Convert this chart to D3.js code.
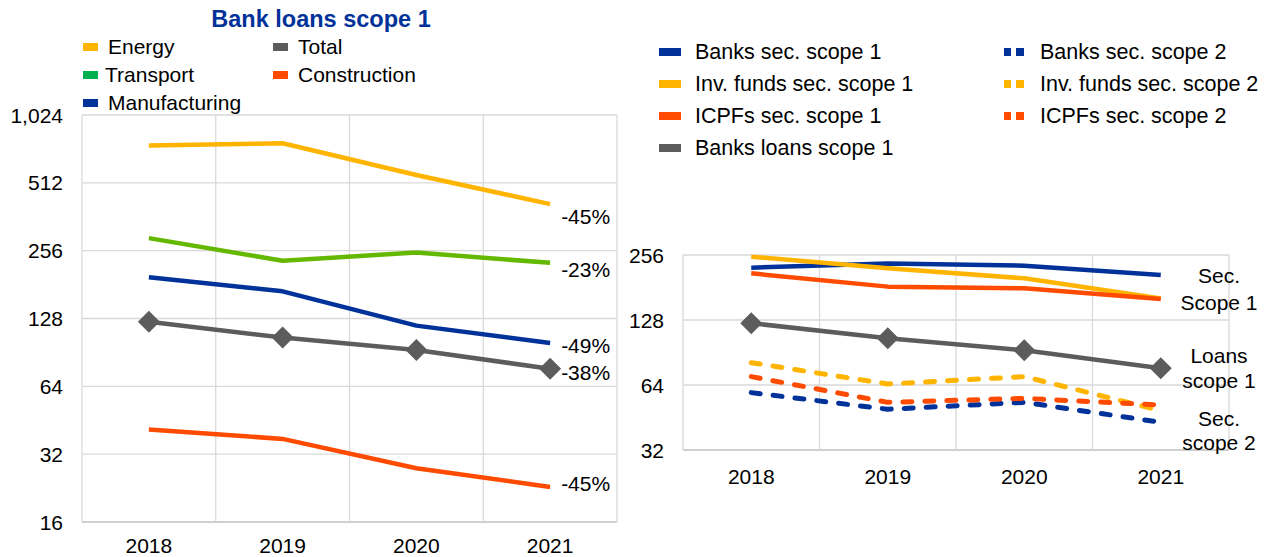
<!DOCTYPE html>
<html>
<head>
<meta charset="utf-8">
<script src="https://cdn.jsdelivr.net/npm/d3@7"></script>
<style>
  html, body { margin: 0; padding: 0; background: #fff; }
  svg { display: block; font-family: "Liberation Sans", Arial, sans-serif; }
</style>
</head>
<body>
<svg id="chart" width="1264" height="557"></svg>
<script>
// ---------- DATA ----------
const years = ["2018", "2019", "2020", "2021"];

// Left panel: Bank loans scope 1 (log2 scale)
const leftTicks = [16, 32, 64, 128, 256, 512, 1024];
const energy        = [749, 767, 555, 412];
const transport     = [291, 231, 251, 226];
const manufacturing = [195, 169, 119, 99.6];
const total         = [123.7, 105.4, 92.7, 76.6];
const construction  = [41.2, 37.4, 27.7, 22.9];
const leftPctLabels = ["-45%", "-23%", "-49%", "-38%", "-45%"];

// Right panel
const rightTicks = [32, 64, 128, 256];
const banksSec1   = [223.6, 234, 228.5, 206.8];
const invFundsSec1 = [251.5, 222, 199.6, 161];
const icpfsSec1   = [210.5, 182.7, 179.4, 160];
const banksSec2   = [59, 49.4, 53.2, 43];
const invFundsSec2 = [81.2, 64.7, 70, 48.7];
const icpfsSec2   = [70, 53.2, 55.5, 51.7];
const banksLoans1 = [123.7, 105.4, 92.7, 76.6];
const rightGroupLabels = [["Sec.", "Scope 1"], ["Loans", "scope 1"], ["Sec.", "scope 2"]];

// ---------- STYLE ----------
const C = {
  blue: "#003299", yellow: "#FFB400", orange: "#FF4B00",
  grey: "#5C5C5C", green: "#65B800", legendGreen: "#00B050",
  grid: "#D9D9D9", axis: "#BFBFBF", text: "#000000"
};
const FS = 21;

const svg = d3.select("#chart");
const fmt = d3.format(",");

function diamondPath(r) {
  return `M0,${-r}L${r},0L0,${r}L${-r},0Z`;
}

function panel(opts) {
  const x = d3.scaleBand().domain(years).range([opts.x0, opts.x1]);
  const y = d3.scaleLog().base(2).domain(opts.domain).range([opts.y1, opts.y0]);
  const g = svg.append("g");

  // horizontal grid
  g.selectAll(".hg").data(opts.ticks).enter().append("line")
    .attr("x1", opts.x0).attr("x2", opts.x1)
    .attr("y1", d => y(d)).attr("y2", d => y(d))
    .attr("stroke", (d, i) => i === 0 ? C.axis : C.grid).attr("stroke-width", 1.3);
  // vertical grid at band boundaries
  const bounds = years.map(d => x(d)).concat([opts.x1]);
  g.selectAll(".vg").data(bounds).enter().append("line")
    .attr("x1", d => d).attr("x2", d => d)
    .attr("y1", opts.y0).attr("y2", opts.y1)
    .attr("stroke", C.grid).attr("stroke-width", 1.3);

  // y tick labels
  g.selectAll(".yl").data(opts.ticks).enter().append("text")
    .attr("x", opts.x0 - 19).attr("y", d => y(d)).attr("dy", "0.36em")
    .attr("text-anchor", "end").attr("font-size", FS).attr("fill", C.text)
    .text(d => fmt(d));
  // x tick labels
  g.selectAll(".xl").data(years).enter().append("text")
    .attr("x", d => x(d) + x.bandwidth() / 2).attr("y", opts.y1 + opts.xLabelOff).attr("dy", "0.36em")
    .attr("text-anchor", "middle").attr("font-size", FS).attr("fill", C.text)
    .text(d => d);

  const line = d3.line()
    .x((d, i) => x(years[i]) + x.bandwidth() / 2)
    .y(d => y(d));

  opts.series.forEach(s => {
    g.append("path").datum(s.values)
      .attr("d", line).attr("fill", "none")
      .attr("stroke", s.color).attr("stroke-width", s.dash ? 5 : 4.5)
      .attr("stroke-linecap", s.dash ? "round" : "butt")
      .attr("stroke-linejoin", "round")
      .attr("stroke-dasharray", s.dash ? "9,13" : null);
    if (s.marker) {
      g.selectAll(null).data(s.values).enter().append("path")
        .attr("d", diamondPath(11))
        .attr("transform", (d, i) => `translate(${x(years[i]) + x.bandwidth() / 2},${y(d)})`)
        .attr("fill", s.color);
    }
  });
  return { x, y, g };
}

// ---------- LEFT PANEL ----------
const leftSeries = [
  { name: "Energy", values: energy, color: C.yellow },
  { name: "Transport", values: transport, color: C.green },
  { name: "Manufacturing", values: manufacturing, color: C.blue },
  { name: "Total", values: total, color: C.grey, marker: true },
  { name: "Construction", values: construction, color: C.orange }
];
const L = panel({ x0: 82, x1: 617, y0: 115, y1: 522, domain: [16, 1024], ticks: leftTicks,
  series: leftSeries, xLabelOff: 23 });

// percentage labels next to last points
const pctDy = [12, 7, 2, 4, -3];
leftSeries.forEach((s, i) => {
  L.g.append("text")
    .attr("x", L.x("2021") + L.x.bandwidth() / 2 + 11)
    .attr("y", L.y(s.values[3]) + pctDy[i]).attr("dy", "0.36em")
    .attr("font-size", FS).attr("fill", C.text).text(leftPctLabels[i]);
});

// title
svg.append("text").attr("x", 321).attr("y", 19).attr("dy", "0.36em")
  .attr("text-anchor", "middle").attr("font-size", 23.5).attr("font-weight", "bold")
  .attr("fill", C.blue).text("Bank loans scope 1");

// left legend
const leftLegend = [
  { name: "Energy", color: C.yellow, col: 0, row: 0 },
  { name: "Total", color: C.grey, col: 1, row: 0 },
  { name: "Transport", color: C.legendGreen, col: 0, row: 1 },
  { name: "Construction", color: C.orange, col: 1, row: 1 },
  { name: "Manufacturing", color: C.blue, col: 0, row: 2 }
];
leftLegend.forEach(d => {
  const lx = d.col === 0 ? 83 : 273;
  const ly = 47 + d.row * 28;
  svg.append("rect").attr("x", lx).attr("y", ly - 4).attr("width", 15).attr("height", 8).attr("fill", d.color);
  svg.append("text").attr("x", lx + 25 - (d.name === "Transport" ? 3 : 0)).attr("y", ly - 1).attr("dy", "0.36em")
    .attr("font-size", FS).attr("fill", C.text).text(d.name);
});

// ---------- RIGHT PANEL ----------
const rightSeries = [
  { name: "Banks sec. scope 1", values: banksSec1, color: C.blue },
  { name: "Inv. funds sec. scope 1", values: invFundsSec1, color: C.yellow },
  { name: "ICPFs sec. scope 1", values: icpfsSec1, color: C.orange },
  { name: "Banks sec. scope 2", values: banksSec2, color: C.blue, dash: true },
  { name: "Inv. funds sec. scope 2", values: invFundsSec2, color: C.yellow, dash: true },
  { name: "ICPFs sec. scope 2", values: icpfsSec2, color: C.orange, dash: true },
  { name: "Banks loans scope 1", values: banksLoans1, color: C.grey, marker: true }
];
const R = panel({ x0: 683, x1: 1229, y0: 255, y1: 450, domain: [32, 256], ticks: rightTicks,
  series: rightSeries, xLabelOff: 26 });

// right group labels
const groupY = [[275, 302], [355, 380], [418, 442]];
rightGroupLabels.forEach((lines, i) => {
  lines.forEach((t, j) => {
    svg.append("text").attr("x", 1219).attr("y", groupY[i][j]).attr("dy", "0.36em")
      .attr("text-anchor", "middle").attr("font-size", FS).attr("fill", C.text).text(t);
  });
});

// right legend
const rightLegendOrder = [
  [0, 0, 0], [3, 1, 0],
  [1, 0, 1], [4, 1, 1],
  [2, 0, 2], [5, 1, 2],
  [6, 0, 3]
];
rightLegendOrder.forEach(([si, col, row]) => {
  const s = rightSeries[si];
  const lx = col === 0 ? 659 : 1004;
  const ly = 52 + row * 32;
  if (s.dash) {
    svg.append("rect").attr("x", lx).attr("y", ly - 4).attr("width", 7).attr("height", 8).attr("fill", s.color);
    svg.append("rect").attr("x", lx + 12).attr("y", ly - 4).attr("width", 8).attr("height", 8).attr("fill", s.color);
  } else {
    svg.append("rect").attr("x", lx).attr("y", ly - 4).attr("width", 22).attr("height", 8).attr("fill", s.color);
  }
  svg.append("text").attr("x", lx + 36).attr("y", ly - 1).attr("dy", "0.36em")
    .attr("font-size", 21.5).attr("fill", C.text).text(s.name);
});
</script>
</body>
</html>
